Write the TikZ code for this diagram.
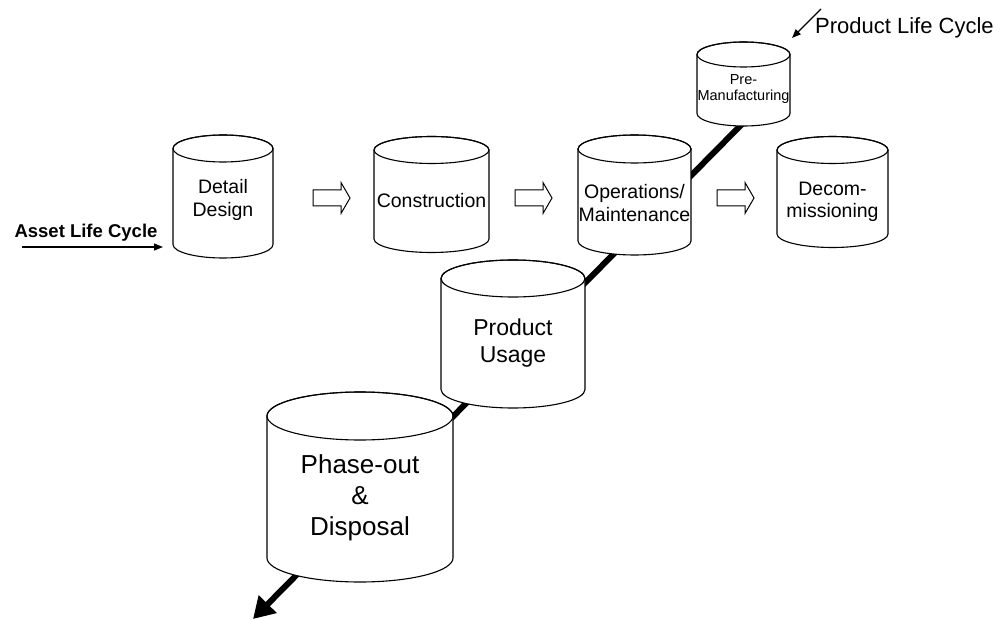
\documentclass[tikz,border=0pt]{standalone}
\usepackage{fontspec}
\setmainfont{Liberation Sans}
\usetikzlibrary{arrows.meta}

\tikzset{
  cylbody/.style={draw=black, fill=white, line width=1.1pt, line join=round},
  cylrim/.style={draw=black, line width=1.1pt},
  cyltext/.style={align=center, inner sep=0pt},
  flowarrow/.style={draw=black, fill=white, line width=1pt, line join=miter},
  lifeline/.style={line width=6pt, -{Triangle[length=21pt,width=24pt]}},
  thinarrow/.style={line width=1.3pt, -{Triangle[length=9pt,width=7pt]}},
}

% #1 name, #2 centre x, #3 top-cap centre y, #4 bottom centre y,
% #5 x radius, #6 y radius, #7 font, #8 text centre y, #9 text
\newcommand\drawcyl[9]{%
  \path[cylbody] ({#2-#5},#3) -- ({#2-#5},#4)
     arc[start angle=180, end angle=0, x radius=#5, y radius=#6]
     -- ({#2+#5},#3)
     arc[start angle=0, end angle=-180, x radius=#5, y radius=#6] -- cycle;
  \draw[cylrim] (#2,#3) ellipse[x radius=#5, y radius=#6];
  \node[cyltext, font=#7] (#1) at (#2,#8) {#9};
}

% hollow block arrow: #1 name, #2 tail x, #3 centre y
\newcommand\blockarrow[3]{%
  \coordinate (#1) at (#2,#3);
  \draw[flowarrow] (#1) ++(0,-8) -- ++(28,0) -- ++(0,-7.5) -- ++(9,15.5)
     -- ++(-9,15.5) -- ++(0,-7.5) -- ++(-28,0) -- cycle;
}

\begin{document}
\begin{tikzpicture}[x=1pt, y=-1pt]
  \useasboundingbox (0,0) rectangle (1003,620);

  % product life cycle axis, behind the phases
  \coordinate (plc-start) at (744,122);
  \coordinate (plc-end) at (253,619);
  \draw[lifeline] (plc-start) -- (plc-end);

  % asset life cycle phases
  \drawcyl{detail}{223}{148.5}{244.5}{50}{13.5}{\fontsize{19.5}{22.5}\selectfont}{200}{Detail\\Design}
  \drawcyl{construction}{431.5}{150}{239}{57.5}{13.5}{\fontsize{19.5}{22.5}\selectfont}{201}{Construction}
  \drawcyl{operations}{634.5}{149}{241}{56.5}{14}{\fontsize{19.5}{22.5}\selectfont}{203}{Operations/\\Maintenance}
  \drawcyl{decom}{832.5}{150}{234}{55.5}{13.5}{\fontsize{19.5}{22.5}\selectfont}{202}{Decom-\\missioning}

  % product life cycle phases
  \drawcyl{premanuf}{743.5}{54.5}{113.5}{46.5}{12.5}{\fontsize{14.5}{16.5}\selectfont}{89}{Pre-\\Manufacturing}
  \drawcyl{usage}{513}{278.5}{389.5}{72}{18.5}{\fontsize{23}{26.5}\selectfont}{343}{Product\\Usage}
  \drawcyl{phaseout}{360}{416}{558}{93}{24}{\fontsize{26}{31}\selectfont}{498}{Phase-out\\\&\\Disposal}

  % flow between asset phases
  \blockarrow{a1}{313}{198}
  \blockarrow{a2}{515}{198}
  \blockarrow{a3}{717}{198}

  % axis labels
  \node[font=\fontsize{18.5}{21}\selectfont\bfseries, inner sep=0pt] (assetlabel) at (86,233) {Asset Life Cycle};
  \coordinate (asset-start) at (22,247);
  \coordinate (asset-end) at (163,247);
  \draw[thinarrow] (asset-start) -- (asset-end);

  \node[font=\fontsize{22}{25}\selectfont, anchor=west, inner sep=0pt] (plclabel) at (815,28) {Product Life Cycle};
  \coordinate (plcarrow-start) at (821,9);
  \coordinate (plcarrow-end) at (792,38);
  \draw[thinarrow] (plcarrow-start) -- (plcarrow-end);
\end{tikzpicture}
\end{document}
